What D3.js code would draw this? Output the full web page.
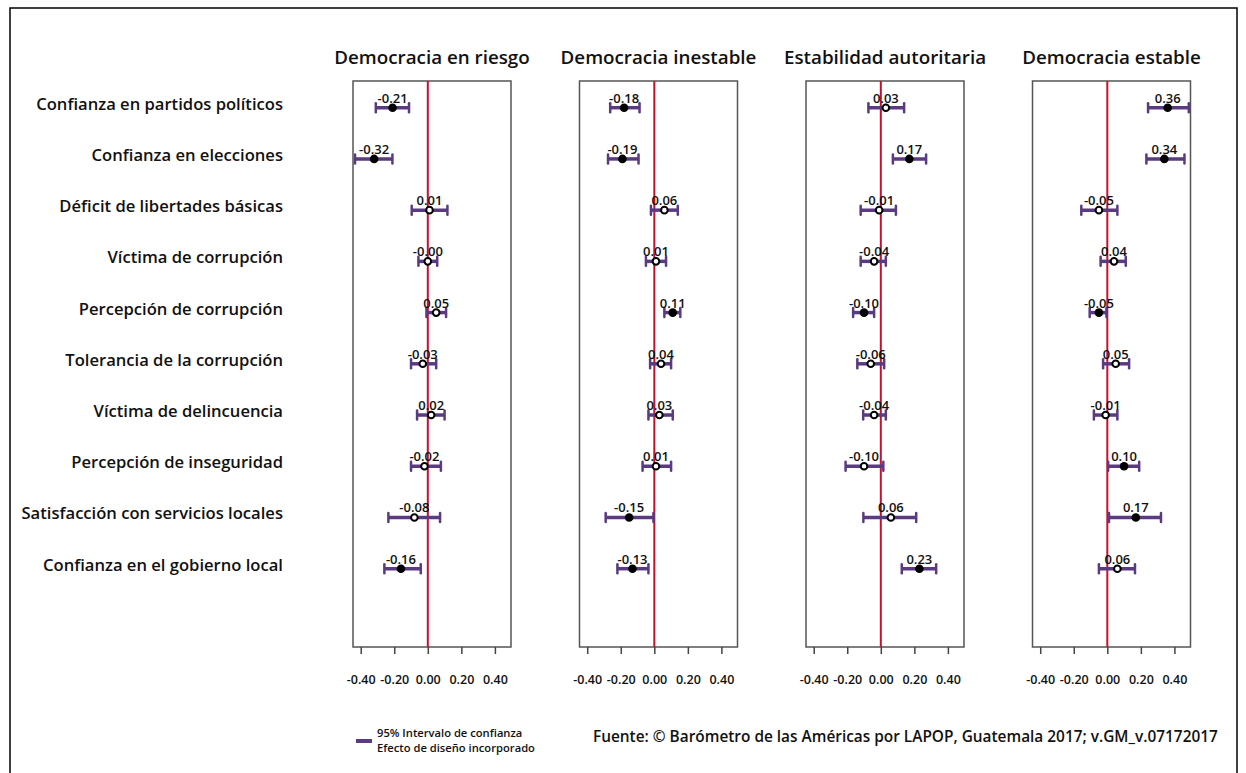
<!DOCTYPE html>
<html><head><meta charset="utf-8">
<script src="https://cdn.jsdelivr.net/npm/d3@7"></script>
<style>
html,body{margin:0;padding:0;background:#fff;}
svg{display:block;font-family:"Open Sans","Noto Sans",sans-serif;}
</style></head>
<body>
<svg id="chart" width="1246" height="773"></svg>
<script>
const categories = ["Confianza en partidos políticos","Confianza en elecciones","Déficit de libertades básicas","Víctima de corrupción","Percepción de corrupción","Tolerancia de la corrupción","Víctima de delincuencia","Percepción de inseguridad","Satisfacción con servicios locales","Confianza en el gobierno local"];
const panels = ["Democracia en riesgo","Democracia inestable","Estabilidad autoritaria","Democracia estable"];
const estRiesgo = [-0.21,-0.32,0.01,-0.00,0.05,-0.03,0.02,-0.02,-0.08,-0.16];
const loRiesgo  = [-0.31,-0.434,-0.096,-0.056,-0.008,-0.10,-0.064,-0.10,-0.235,-0.259];
const hiRiesgo  = [-0.112,-0.211,0.117,0.056,0.109,0.05,0.10,0.078,0.073,-0.042];
const estInestable = [-0.18,-0.19,0.06,0.01,0.11,0.04,0.03,0.01,-0.15,-0.13];
const loInestable  = [-0.263,-0.276,-0.02,-0.05,0.06,-0.025,-0.035,-0.07,-0.29,-0.22];
const hiInestable  = [-0.088,-0.094,0.14,0.07,0.155,0.10,0.11,0.10,-0.005,-0.035];
const estAutoritaria = [0.03,0.17,-0.01,-0.04,-0.10,-0.06,-0.04,-0.10,0.06,0.23];
const loAutoritaria  = [-0.074,0.072,-0.12,-0.12,-0.165,-0.14,-0.105,-0.21,-0.104,0.125];
const hiAutoritaria  = [0.139,0.27,0.09,0.03,-0.04,0.02,0.03,0.015,0.211,0.33];
const estEstable = [0.36,0.34,-0.05,0.04,-0.05,0.05,-0.01,0.10,0.17,0.06];
const loEstable  = [0.243,0.233,-0.155,-0.04,-0.105,-0.025,-0.08,0.005,0.01,-0.05];
const hiEstable  = [0.486,0.46,0.06,0.11,-0.005,0.13,0.06,0.19,0.32,0.165];
const xTicks = [-0.4,-0.2,0,0.2,0.4];
const legendLines = ["95% Intervalo de confianza","Efecto de diseño incorporado"];
const sourceText = "Fuente: © Barómetro de las Américas por LAPOP, Guatemala 2017; v.GM_v.07172017";

const series = [
  {est: estRiesgo, lo: loRiesgo, hi: hiRiesgo},
  {est: estInestable, lo: loInestable, hi: hiInestable},
  {est: estAutoritaria, lo: loAutoritaria, hi: hiAutoritaria},
  {est: estEstable, lo: loEstable, hi: hiEstable}
];

const svg = d3.select("#chart");
const PURPLE = "#5a3a80", RED = "#c8102e";

// outer frame
svg.append("rect").attr("x",10).attr("y",8).attr("width",1227).attr("height",800)
  .attr("fill","none").attr("stroke","#000").attr("stroke-width",1.5);

const panelW = 158, panelTop = 81, panelBottom = 647, firstLeft = 353, step = 226.5;
const x = d3.scaleLinear().domain([-0.446,0.496]).range([0,panelW]);
const y = d3.scaleLinear().domain([0,categories.length-1]).range([107.7,568.7]);

// row labels
svg.append("g").selectAll("text").data(categories).join("text")
  .attr("x",283).attr("y",(d,i)=>y(i)+2)
  .attr("text-anchor","end").attr("font-size",16.6).attr("font-weight",600)
  .attr("fill","#111").text(d=>d);

panels.forEach((title,p)=>{
  const g = svg.append("g").attr("transform",`translate(${firstLeft+p*step},0)`);
  const s = series[p];
  g.append("text").attr("x",panelW/2).attr("y",63.5).attr("text-anchor","middle")
    .attr("font-size",18.8).attr("font-weight",600).attr("fill","#111").text(title);
  g.append("rect").attr("x",0).attr("y",panelTop).attr("width",panelW).attr("height",panelBottom-panelTop)
    .attr("fill","none").attr("stroke","#555").attr("stroke-width",1.5);
  g.append("line").attr("x1",x(0)).attr("x2",x(0)).attr("y1",panelTop).attr("y2",panelBottom)
    .attr("stroke",RED).attr("stroke-width",2);
  const axis = d3.axisBottom(x).tickValues(xTicks).tickSize(7).tickSizeOuter(0).tickFormat(d3.format(".2f"));
  const ag = g.append("g").attr("transform",`translate(0,${panelBottom})`).call(axis);
  ag.select(".domain").remove();
  ag.selectAll(".tick line").attr("stroke","#444").attr("stroke-width",1.5);
  ag.selectAll(".tick text").attr("y",28).attr("font-size",12.5).attr("font-weight",600)
    .attr("fill","#111").attr("font-family","'Open Sans','Noto Sans',sans-serif")
    .text(d=>d3.format(".2f")(d).replace("−","-"));

  const rows = s.est.map((e,i)=>({e, lo:s.lo[i], hi:s.hi[i], i}));
  const rg = g.append("g").selectAll("g").data(rows).join("g");
  rg.append("line").attr("x1",d=>x(d.lo)).attr("x2",d=>x(d.hi)).attr("y1",d=>y(d.i)).attr("y2",d=>y(d.i))
    .attr("stroke",PURPLE).attr("stroke-width",3.5);
  ["lo","hi"].forEach(k=>{
    rg.append("line").attr("x1",d=>x(d[k])).attr("x2",d=>x(d[k])).attr("y1",d=>y(d.i)-4.5).attr("y2",d=>y(d.i)+4.5)
      .attr("stroke",PURPLE).attr("stroke-width",2.5).attr("stroke-linecap","round");
  });
  rg.append("circle").attr("cx",d=>x(d.e)).attr("cy",d=>y(d.i))
    .attr("r",d=>(d.lo>0||d.hi<0)?4.3:3.3)
    .attr("fill",d=>(d.lo>0||d.hi<0)?"#000":"#fff")
    .attr("stroke","#000").attr("stroke-width",d=>(d.lo>0||d.hi<0)?0:2);
  rg.append("text").attr("x",d=>x(d.e)).attr("y",d=>y(d.i)-5)
    .attr("text-anchor","middle").attr("font-size",13).attr("font-weight",600).attr("fill","#111")
    .text(d=>{ const v=d3.format(".2f")(Math.abs(d.e)); return (d.e<0||Object.is(d.e,-0))?"-"+v:v; });
});

// legend
svg.append("line").attr("x1",356).attr("x2",372).attr("y1",741).attr("y2",741)
  .attr("stroke",PURPLE).attr("stroke-width",4);
svg.append("g").selectAll("text").data(legendLines).join("text")
  .attr("x",377).attr("y",(d,i)=>737+i*14.5).attr("font-size",11.2).attr("font-weight",600).attr("fill","#111").text(d=>d);
svg.append("text").attr("x",593).attr("y",742).attr("font-size",15.4).attr("font-weight",600).attr("fill","#111").text(sourceText);
</script>
</body></html>
